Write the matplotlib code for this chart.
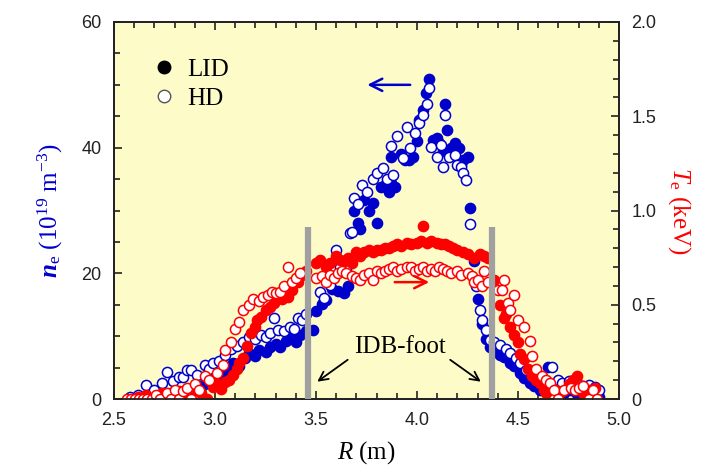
import numpy as np
import matplotlib
matplotlib.use("Agg")
import matplotlib.pyplot as plt
from matplotlib.lines import Line2D
from matplotlib.ticker import MultipleLocator, FixedFormatter, FixedLocator

plt.rcParams['mathtext.fontset'] = 'custom'
plt.rcParams['mathtext.rm'] = 'Liberation Serif'
plt.rcParams['mathtext.it'] = 'Liberation Serif:italic'
plt.rcParams['mathtext.bf'] = 'Liberation Serif:bold'
plt.rcParams['mathtext.bfit'] = 'Liberation Serif:italic:bold'

# LID density (1e19 m^-3)
R_ne_lid = [2.62, 2.66, 2.70, 2.74, 2.78, 2.82, 2.86, 2.90, 2.94, 2.96, 3.00, 3.03, 3.06, 3.09, 3.12,
            3.15, 3.17, 3.20, 3.22, 3.25, 3.27, 3.30, 3.32, 3.35, 3.37, 3.40, 3.42, 3.45, 3.485, 3.50,
            3.53, 3.55, 3.58, 3.61, 3.64, 3.66, 3.69, 3.71, 3.72, 3.74, 3.76, 3.78, 3.80, 3.82, 3.84,
            3.86, 3.87, 3.89, 3.87, 3.92, 3.94, 3.96, 3.98, 4.00, 4.01, 4.03, 4.045, 4.06, 4.08, 4.10,
            4.11, 4.13, 4.14, 4.15, 4.17, 4.19, 4.21, 4.23, 4.25, 4.22, 4.26, 4.28, 4.30, 4.32, 4.34,
            4.36, 4.39, 4.41, 4.43, 4.46, 4.48, 4.51, 4.53, 4.56, 4.58, 4.61, 4.65, 4.67, 4.70, 4.73,
            4.76, 4.79, 4.82, 4.85, 4.88, 4.90]
ne_lid = [0.3, 0.5, 0.8, 0.4, 1.0, 0.6, 1.2, 1.8, 2.2, 3.5, 3.0, 3.8, 4.5, 5.7, 5.2,
          6.5, 7.3, 6.8, 7.8, 7.5, 8.3, 8.8, 8.2, 9.3, 9.7, 9.0, 10.2, 10.8, 11.0, 14.0,
          15.2, 15.8, 17.5, 17.2, 16.9, 18.0, 30.0, 28.0, 27.0, 31.7, 30.0, 31.2, 28.0, 33.7, 34.0,
          33.0, 34.4, 33.7, 38.5, 39.0, 38.0, 38.0, 38.5, 41.0, 44.4, 46.0, 48.7, 51.0, 41.2, 41.5,
          40.7, 39.5, 47.0, 42.8, 40.0, 40.7, 40.0, 38.0, 38.5, 37.2, 30.4, 22.0, 15.9, 12.0, 9.5,
          8.3, 7.5, 7.0, 6.7, 5.8, 5.2, 4.1, 3.3, 2.5, 2.0, 1.5, 5.1, 1.9, 1.2, 1.0,
          1.5, 0.8, 1.0, 0.6, 0.8, 0.4]

# HD density (1e19 m^-3)
R_ne_hd = [2.58, 2.62, 2.66, 2.70, 2.74, 2.76, 2.79, 2.82, 2.84, 2.86, 2.88, 2.91, 2.95, 2.97, 2.99,
           3.02, 3.05, 3.08, 3.11, 3.14, 3.17, 3.20, 3.23, 3.25, 3.27, 3.29, 3.31, 3.34, 3.37, 3.39,
           3.41, 3.43, 3.45, 3.52, 3.54, 3.57, 3.60, 3.62, 3.65, 3.67, 3.68, 3.69, 3.71, 3.73, 3.75,
           3.78, 3.80, 3.83, 3.85, 3.88, 3.87, 3.90, 3.93, 3.95, 3.965, 3.99, 4.01, 4.03, 4.05, 4.06,
           4.07, 4.10, 4.12, 4.13, 4.14, 4.16, 4.19, 4.20, 4.22, 4.23, 4.24, 4.26, 4.29, 4.31, 4.32,
           4.34, 4.36, 4.38, 4.41, 4.44, 4.46, 4.49, 4.51, 4.54, 4.57, 4.59, 4.62, 4.67, 4.70, 4.72,
           4.75, 4.79, 4.82, 4.85, 4.88, 4.90]
ne_hd = [0.3, 0.6, 2.2, 1.5, 2.5, 4.3, 2.8, 3.5, 3.5, 4.6, 4.6, 3.8, 5.4, 4.8, 5.7,
         6.0, 7.0, 8.0, 8.5, 9.0, 9.8, 9.5, 10.2, 9.8, 10.5, 12.9, 11.0, 10.8, 11.5, 11.2,
         12.9, 12.6, 13.5, 17.0, 16.0, 18.1, 23.7, 21.0, 20.5, 26.4, 26.5, 32.0, 31.0, 34.0, 33.0,
         35.0, 36.0, 36.8, 35.0, 35.7, 40.3, 41.9, 38.4, 43.3, 40.0, 42.3, 44.0, 45.2, 47.0, 49.5,
         40.1, 38.5, 40.5, 36.9, 45.2, 38.5, 38.8, 37.2, 36.9, 36.0, 34.9, 27.9, 18.0, 14.2, 12.6,
         11.0, 9.4, 9.0, 8.6, 8.0, 7.3, 6.5, 5.7, 4.6, 4.0, 3.3, 3.0, 5.1, 3.0, 2.5,
         2.8, 2.5, 2.0, 2.2, 1.9, 1.4]

# LID temperature (keV)
R_te_lid = [2.62, 2.66, 2.70, 2.74, 2.78, 2.82, 2.86, 2.90, 2.93, 2.96, 2.99, 3.01, 3.03, 3.05, 3.07,
            3.09, 3.11, 3.12, 3.14, 3.16, 3.18, 3.20, 3.21, 3.23, 3.25, 3.27, 3.29, 3.31, 3.33, 3.36,
            3.38, 3.41, 3.43, 3.45, 3.50, 3.52, 3.55, 3.57, 3.60, 3.62, 3.64, 3.66, 3.68, 3.70, 3.72,
            3.74, 3.76, 3.78, 3.80, 3.82, 3.84, 3.86, 3.88, 3.90, 3.92, 3.95, 3.97, 4.00, 4.02, 4.03,
            4.05, 4.07, 4.10, 4.12, 4.14, 4.16, 4.18, 4.20, 4.23, 4.25, 4.28, 4.31, 4.33, 4.35, 4.38,
            4.41, 4.43, 4.44, 4.46, 4.48, 4.50, 4.51, 4.53, 4.55, 4.57, 4.59, 4.61, 4.63, 4.64, 4.66,
            4.69, 4.72, 4.75, 4.77, 4.79, 4.82, 4.85, 4.88]
te_lid = [0.01, 0.02, 0.0, 0.03, 0.02, 0.04, 0.02, 0.05, 0.03, 0.0, 0.064, 0.08, 0.053, 0.09, 0.10,
          0.13, 0.16, 0.19, 0.22, 0.28, 0.35, 0.38, 0.42, 0.435, 0.47, 0.49, 0.51, 0.54, 0.53, 0.54,
          0.58, 0.62, 0.66, 0.68, 0.72, 0.74, 0.70, 0.72, 0.76, 0.74, 0.73, 0.75, 0.72, 0.78, 0.76,
          0.78, 0.79, 0.78, 0.79, 0.79, 0.80, 0.80, 0.81, 0.82, 0.81, 0.83, 0.82, 0.83, 0.84, 0.92,
          0.83, 0.84, 0.83, 0.82, 0.82, 0.81, 0.80, 0.79, 0.78, 0.77, 0.75, 0.77, 0.76, 0.75, 0.63,
          0.50, 0.43, 0.45, 0.38, 0.34, 0.30, 0.24, 0.21, 0.16, 0.12, 0.10, 0.085, 0.05, 0.03, 0.06,
          0.05, 0.04, 0.08, 0.10, 0.12, 0.03, 0.05, 0.06]

# HD temperature (keV)
R_te_hd = [2.565, 2.585, 2.605, 2.625, 2.645, 2.665, 2.69, 2.71, 2.73, 2.76, 2.78, 2.80, 2.82, 2.84, 2.86,
           2.88, 2.90, 2.92, 2.95, 2.97, 3.01, 3.04, 3.05, 3.08, 3.10, 3.12, 3.14, 3.17, 3.19, 3.22,
           3.24, 3.26, 3.28, 3.30, 3.32, 3.34, 3.36, 3.38, 3.40, 3.42, 3.50, 3.53, 3.55, 3.57, 3.59,
           3.61, 3.63, 3.65, 3.68, 3.70, 3.72, 3.74, 3.76, 3.78, 3.80, 3.82, 3.84, 3.86, 3.88, 3.90,
           3.92, 3.95, 3.97, 3.99, 4.01, 4.03, 4.05, 4.07, 4.09, 4.11, 4.13, 4.15, 4.17, 4.20, 4.22,
           4.25, 4.27, 4.28, 4.30, 4.32, 4.33, 4.35, 4.40, 4.43, 4.42, 4.45, 4.46, 4.48, 4.50, 4.53,
           4.56, 4.57, 4.59, 4.62, 4.64, 4.66, 4.68, 4.70, 4.73, 4.76, 4.78, 4.80, 4.82, 4.85, 4.87,
           4.89]
te_hd = [0.0, 0.0, 0.0, 0.0, 0.0, 0.0, 0.0, 0.02, 0.0, 0.03, 0.0, 0.05, 0.0, 0.04, 0.06,
         0.0, 0.08, 0.05, 0.12, 0.10, 0.14, 0.18, 0.26, 0.30, 0.37, 0.41, 0.47, 0.50, 0.53, 0.52,
         0.54, 0.55, 0.57, 0.56, 0.57, 0.60, 0.70, 0.62, 0.64, 0.67, 0.64, 0.65, 0.62, 0.66, 0.64,
         0.67, 0.68, 0.67, 0.65, 0.64, 0.63, 0.66, 0.67, 0.63, 0.68, 0.67, 0.68, 0.69, 0.70, 0.68,
         0.69, 0.70, 0.70, 0.68, 0.69, 0.70, 0.68, 0.69, 0.68, 0.70, 0.69, 0.68, 0.67, 0.68, 0.66,
         0.67, 0.65, 0.62, 0.63, 0.60, 0.68, 0.62, 0.58, 0.63, 0.58, 0.51, 0.47, 0.55, 0.42, 0.38,
         0.31, 0.23, 0.16, 0.12, 0.10, 0.085, 0.05, 0.0, 0.05, 0.06, 0.05, 0.06, 0.07, 0.0, 0.05,
         0.0]

# IDB-foot positions (m) and bar height in density units
R_foot = [3.46, 4.37]
foot_top = 27.4

blue = '#0000cc'
red = '#ff0000'
serif = 'Liberation Serif'
sans = 'Liberation Sans'

fig = plt.figure(figsize=(7.09, 4.68), dpi=100)
ax = fig.add_axes([0.1608, 0.1474, 0.7123, 0.8056])
ax.set_facecolor('#fdfcc8')
ax2 = ax.twinx()

ms = 7.3
ax.plot(R_ne_lid, ne_lid, 'o', ms=ms, mfc=blue, mec=blue, mew=1.1, ls='none')
ax.plot(R_ne_hd, ne_hd, 'o', ms=ms, mfc='white', mec=blue, mew=1.1, ls='none')
ax2.plot(R_te_lid, te_lid, 'o', ms=ms, mfc=red, mec=red, mew=1.1, ls='none')
ax2.plot(R_te_hd, te_hd, 'o', ms=ms, mfc='white', mec=red, mew=1.1, ls='none')

ax.set_xlim(2.5, 5.0)
ax.set_ylim(0, 60)
ax2.set_ylim(0, 2.0)

# gray IDB-foot bars (drawn on top axis, scaled to keV)
for r in R_foot:
    ax2.plot([r, r], [0, foot_top / 30.0], color='#a0a0a0', lw=4.5, solid_capstyle='butt', zorder=5)

# ticks
ax.xaxis.set_major_locator(FixedLocator([2.5, 3.0, 3.5, 4.0, 4.5, 5.0]))
ax.xaxis.set_major_formatter(FixedFormatter(['2.5', '3.0', '3.5', '4.0', '4.5', '5.0']))
ax.xaxis.set_minor_locator(MultipleLocator(0.1))
ax.yaxis.set_major_locator(MultipleLocator(20))
ax.yaxis.set_minor_locator(MultipleLocator(5))
ax2.yaxis.set_major_locator(FixedLocator([0, 0.5, 1.0, 1.5, 2.0]))
ax2.yaxis.set_major_formatter(FixedFormatter(['0', '0.5', '1.0', '1.5', '2.0']))
ax2.yaxis.set_minor_locator(MultipleLocator(0.1))

ax.tick_params(axis='both', which='both', direction='in', top=True, right=False,
               width=1.2, labelsize=13, pad=9, colors='#222222')
ax.tick_params(which='major', length=6)
ax.tick_params(which='minor', length=4)
ax2.tick_params(axis='y', which='both', direction='in', width=1.2, labelsize=13, pad=9,
                colors='#222222')
ax2.tick_params(which='major', length=6)
ax2.tick_params(which='minor', length=4)
for a in (ax, ax2):
    for lab in a.get_xticklabels() + a.get_yticklabels():
        lab.set_fontfamily(sans)
    for s in a.spines.values():
        s.set_linewidth(1.3)
        s.set_color('#222222')

ax.set_xlabel(r'$\mathit{R}$ (m)', fontsize=18, fontfamily=serif, labelpad=8)
ax.set_ylabel(r'$\mathbfit{n}_\mathrm{e}$ (10$^{19}$ m$^{-3}$)', fontsize=18,
              fontfamily=serif, color=blue, labelpad=12)
ax2.set_ylabel(r'$\mathit{T}_\mathrm{e}$ (keV)', fontsize=18, fontfamily=serif, color=red,
               rotation=270, labelpad=26)

# direction arrows
ax.annotate('', xy=(3.74, 50), xytext=(3.98, 50),
            arrowprops=dict(arrowstyle='->', color=blue, lw=1.8, mutation_scale=22))
ax2.annotate('', xy=(4.074, 0.62), xytext=(3.876, 0.62),
             arrowprops=dict(arrowstyle='->', color=red, lw=1.8, mutation_scale=22))

# IDB-foot label
ax.text(3.915, 8.3, 'IDB-foot', fontsize=18, fontfamily=serif, ha='center', va='center')
ax.annotate('', xy=(3.495, 2.5), xytext=(3.668, 6.5),
            arrowprops=dict(arrowstyle='->', color='black', lw=1.3, mutation_scale=16))
ax.annotate('', xy=(4.327, 2.5), xytext=(4.153, 6.5),
            arrowprops=dict(arrowstyle='->', color='black', lw=1.3, mutation_scale=16))

handles = [Line2D([], [], marker='o', ls='none', ms=9, mfc='black', mec='black'),
           Line2D([], [], marker='o', ls='none', ms=9, mfc='white', mec='#555555')]
ax2.legend(handles, ['LID', 'HD'], loc='upper left', bbox_to_anchor=(0.055, 0.93),
           frameon=False, prop={'family': serif, 'size': 18}, handletextpad=0.4,
           labelspacing=0.25, handlelength=1.0, borderaxespad=0)

fig.savefig('out.png', dpi=100)
